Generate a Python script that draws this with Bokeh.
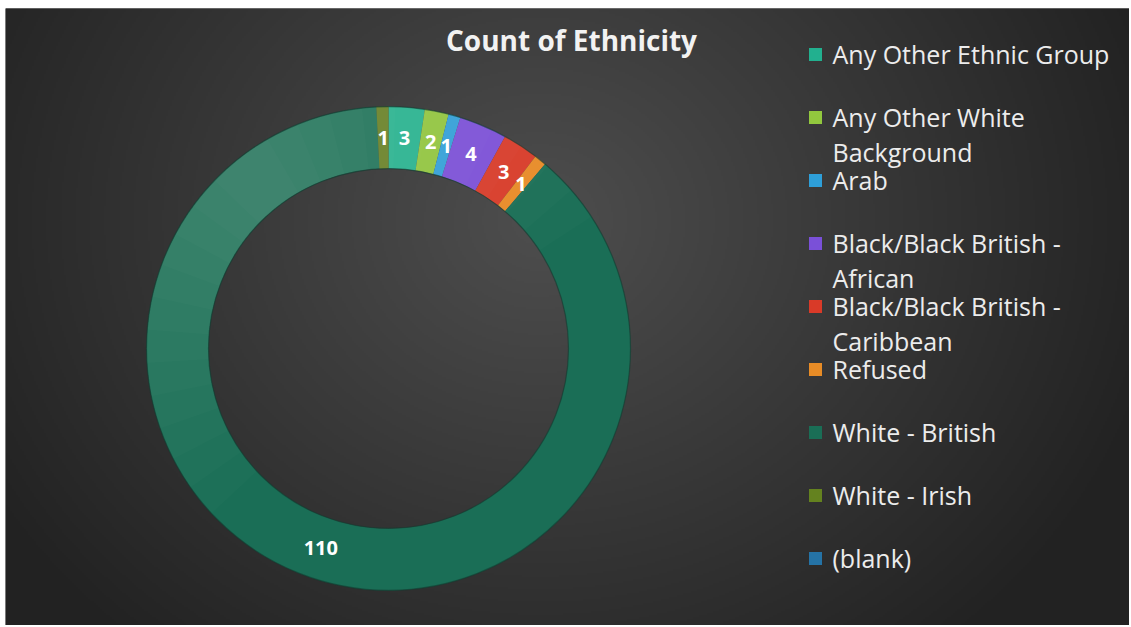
import numpy as np
from bokeh.plotting import figure
from bokeh.core.properties import value
from bokeh.embed import file_html
from bokeh.resources import INLINE

# ---------------- data ----------------
title_text = "Count of Ethnicity"
categories = [
    "Any Other Ethnic Group",
    "Any Other White Background",
    "Arab",
    "Black/Black British - African",
    "Black/Black British - Caribbean",
    "Refused",
    "White - British",
    "White - Irish",
    "(blank)",
]
counts = [3, 2, 1, 4, 3, 1, 110, 1, 0]
legend_lines = [
    ["Any Other Ethnic Group"],
    ["Any Other White", "Background"],
    ["Arab"],
    ["Black/Black British -", "African"],
    ["Black/Black British -", "Caribbean"],
    ["Refused"],
    ["White - British"],
    ["White - Irish"],
    ["(blank)"],
]
colors = ["#22b08f", "#92c83e", "#2e9fd9", "#7a50d8", "#d93a28",
          "#e88c26", "#1a6e56", "#64821f", "#2573a6"]

# ---------------- layout ----------------
W, H = 1129, 625
LEFT, TOP = 5, 8
FW, FH = W - LEFT, H - TOP
FONT = "Open Sans"

def sx(x):  # screen x -> data x
    return x - LEFT

def sy(y):  # screen y -> data y
    return H - y

p = figure(width=W, height=H, x_range=(0, FW), y_range=(0, FH),
           output_backend="svg", toolbar_location=None,
           min_border_left=LEFT, min_border_top=TOP,
           min_border_right=0, min_border_bottom=0,
           x_axis_type=None, y_axis_type=None)
p.grid.visible = False
p.outline_line_color = None
p.background_fill_color = "#333333"
p.border_fill_color = "white"

# radial gradient background
step = 2
nx, ny = FW // step + 1, FH // step + 1
xs = (np.arange(nx) + 0.5) * step
ys = (np.arange(ny) + 0.5) * step
X, Y = np.meshgrid(xs, ys)
gcx, gcy = sx(540), sy(220)
t = np.sqrt(((X - gcx) / 640.0) ** 2 + ((Y - gcy) / 560.0) ** 2)
t = np.clip(t, 0, 1)
c0, c1 = 0x4e, 0x22
g = (c0 + (c1 - c0) * t).astype(np.uint32)
img = np.empty((ny, nx), dtype=np.uint32)
view = img.view(dtype=np.uint8).reshape((ny, nx, 4))
view[:, :, 0] = g
view[:, :, 1] = g
view[:, :, 2] = g
view[:, :, 3] = 255
p.image_rgba(image=[img], x=0, y=0, dw=nx * step, dh=ny * step)

# donut
cx, cy = sx(388), sy(348)
r_in, r_out = 180, 242
total = float(sum(counts))
cum = np.cumsum(counts)
before = cum - np.array(counts)
starts = np.pi / 2 - 2 * np.pi * before / total
ends = np.pi / 2 - 2 * np.pi * cum / total
mask = np.array(counts) > 0

p.annular_wedge(x=cx, y=cy, inner_radius=r_in, outer_radius=r_out,
                start_angle=list(starts[mask]), end_angle=list(ends[mask]),
                direction="clock", fill_color=[c for c, m in zip(colors, mask) if m],
                line_color=None)

# soft light shading toward the upper-left of the ring (nested layers)
nshade = 12
centre_a = np.radians(128)
half = np.radians(np.linspace(8, 95, nshade))
for h in half:
    p.annular_wedge(x=cx, y=cy, inner_radius=r_in, outer_radius=r_out,
                    start_angle=float(centre_a - h), end_angle=float(centre_a + h),
                    direction="anticlock", fill_color="#ffffff",
                    fill_alpha=0.014, line_color=None)

# thin dark edges of the ring
p.circle(x=[cx, cx], y=[cy, cy], radius=[r_in, r_out], fill_color=None,
         line_color="#123c30", line_alpha=0.6, line_width=1.2)

# data labels
mids = (starts + ends) / 2
r_lab = (r_in + r_out) / 2
lx = [cx + r_lab * np.cos(a) for a, m in zip(mids, mask) if m]
ly = [cy + r_lab * np.sin(a) for a, m in zip(mids, mask) if m]
lt = [str(c) for c in counts if c > 0]
p.text(x=lx, y=ly, text=lt, text_align="center", text_baseline="middle",
       text_color="#ffffff", text_font=value(FONT), text_font_style="bold",
       text_font_size="20px")

# title
p.text(x=[sx(571)], y=[sy(39)], text=[title_text], text_align="center",
       text_baseline="middle", text_color="#f2f2f2", text_font=value(FONT),
       text_font_style="bold", text_font_size="28px")

# legend
first_y = 53
item_step = 63
line_step = 35
sq_x, txt_x = sx(815), sx(832)
sq_y, tx_list, ty_list, tt_list = [], [], [], []
for i, lines in enumerate(legend_lines):
    yy = first_y + i * item_step
    sq_y.append(sy(yy + 1))
    for j, ln in enumerate(lines):
        tx_list.append(txt_x)
        ty_list.append(sy(yy + j * line_step))
        tt_list.append(ln)
p.rect(x=[sq_x] * len(sq_y), y=sq_y, width=13, height=13, fill_color=colors,
       line_color=None)
p.text(x=tx_list, y=ty_list, text=tt_list, text_align="left",
       text_baseline="middle", text_color="#ececec", text_font=value(FONT),
       text_font_size="25px")

open("out.html", "w").write(file_html(p, INLINE))
